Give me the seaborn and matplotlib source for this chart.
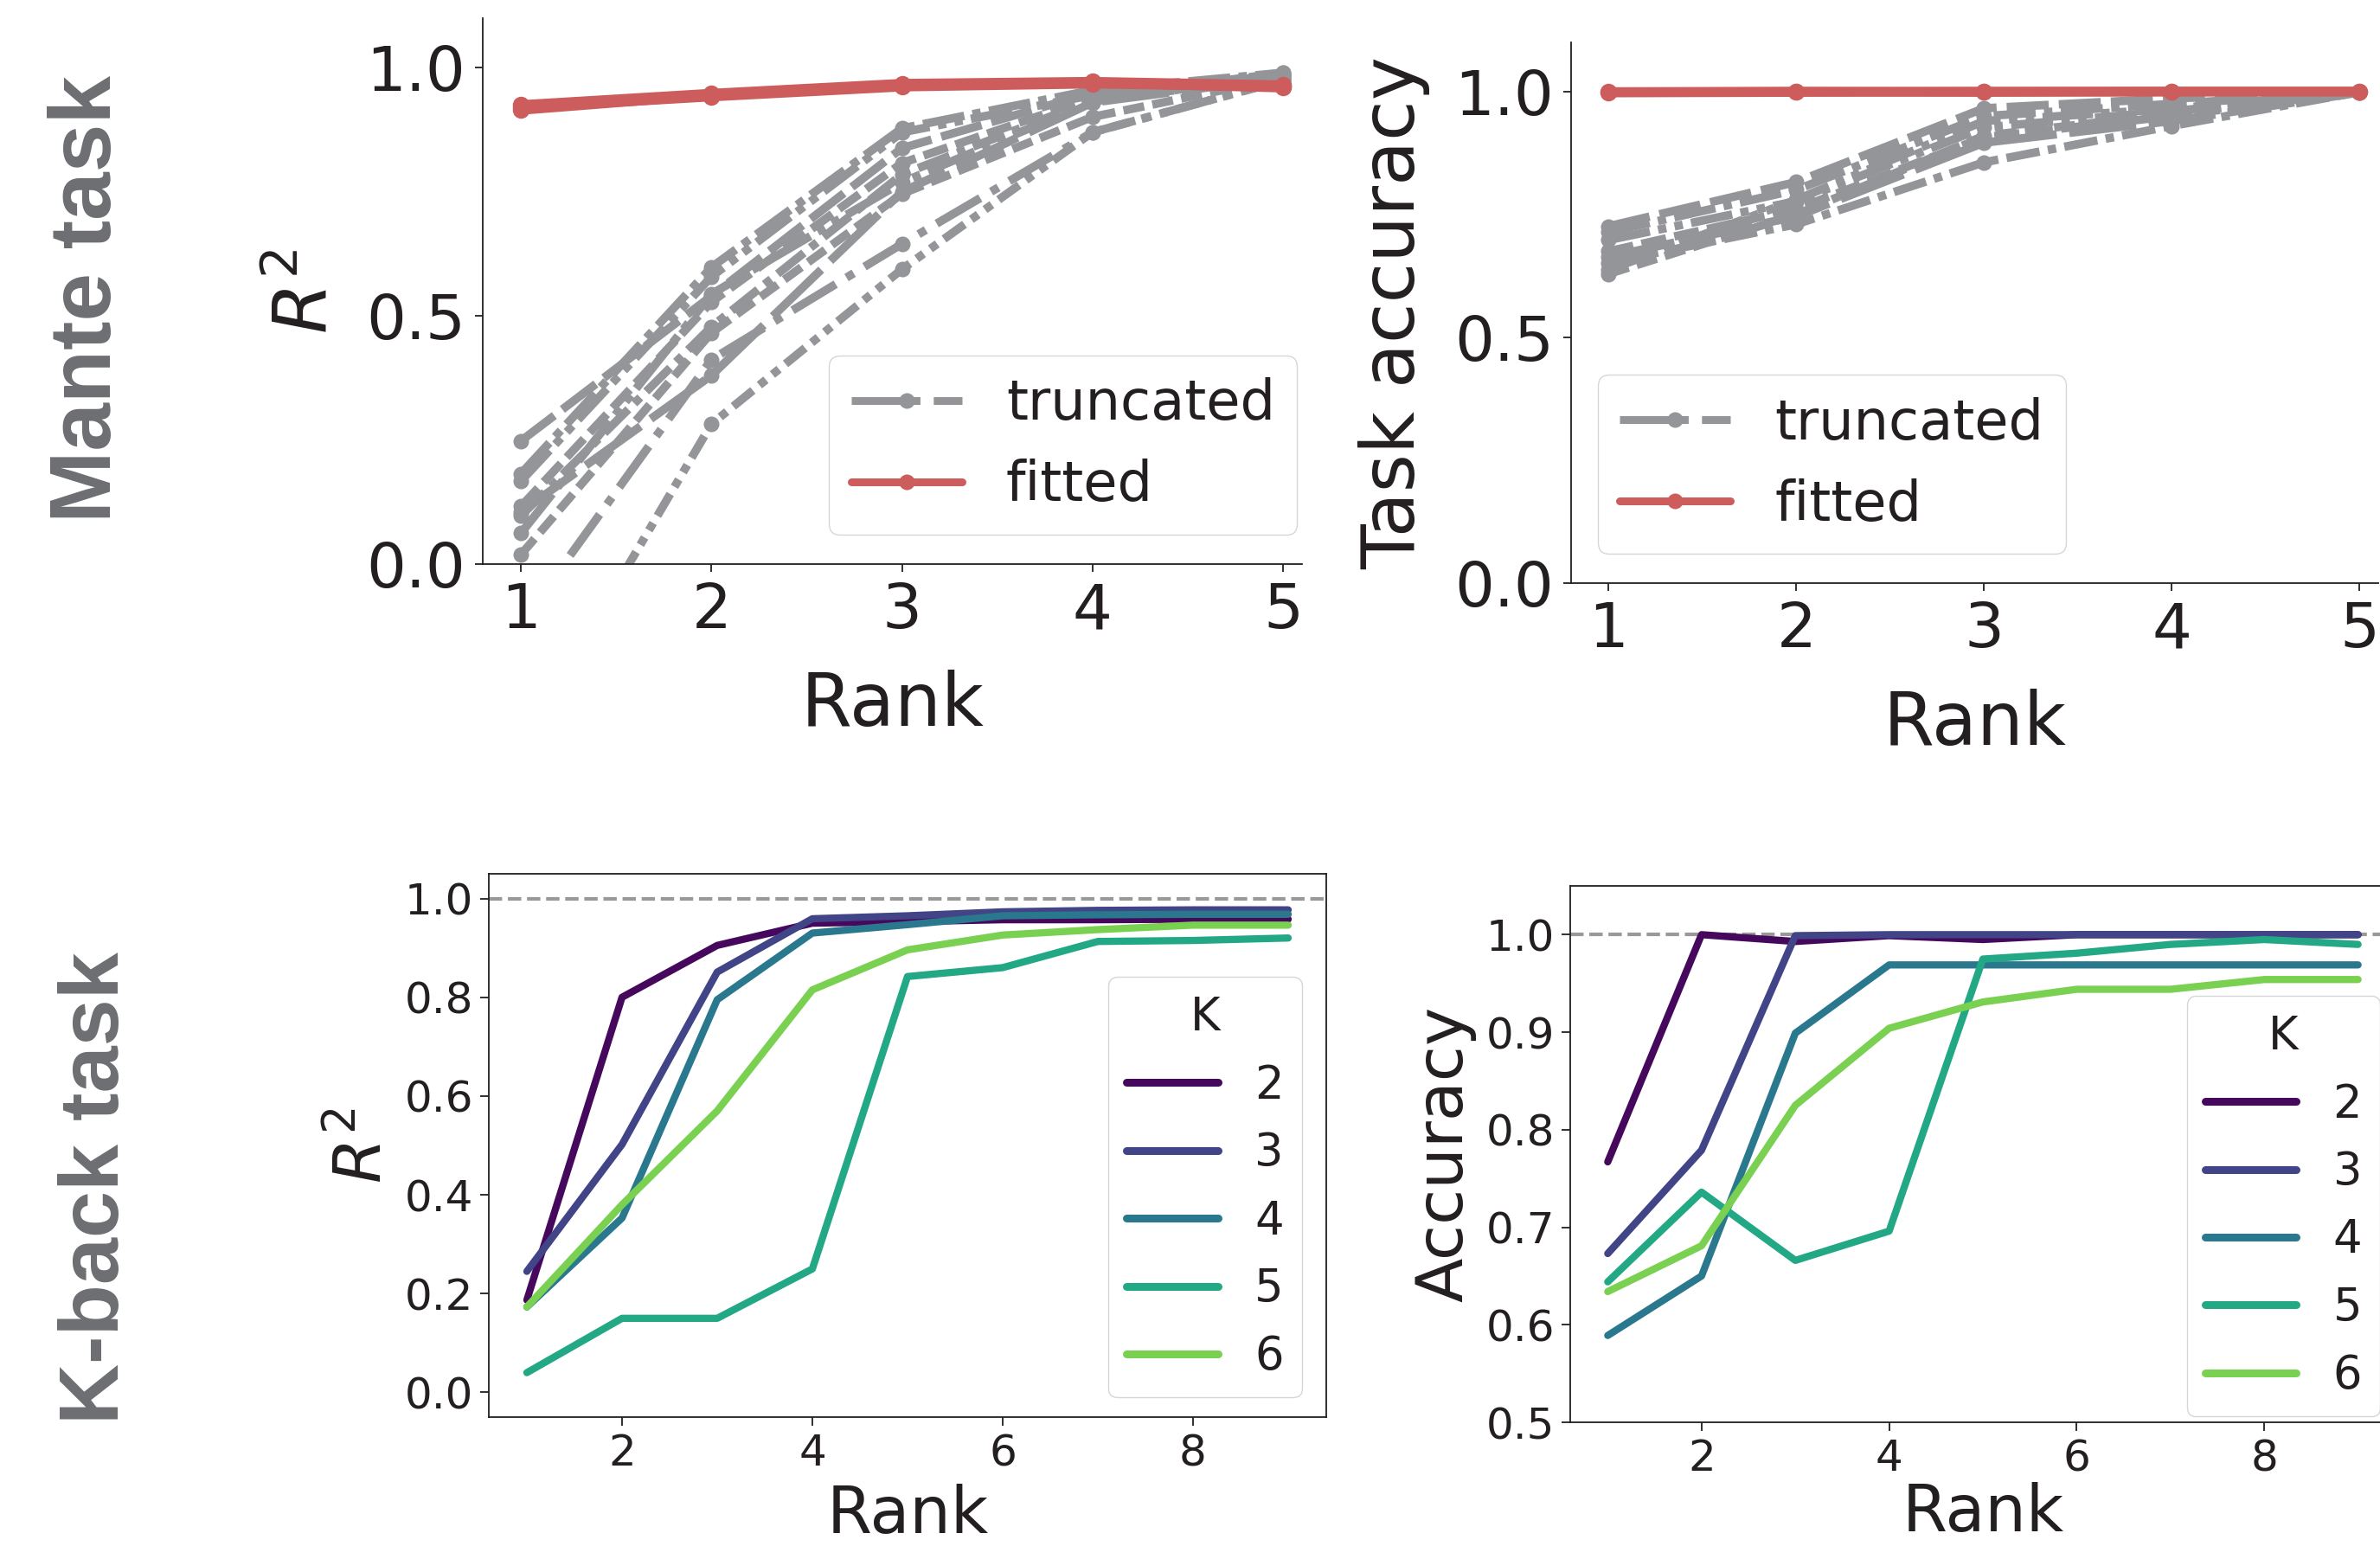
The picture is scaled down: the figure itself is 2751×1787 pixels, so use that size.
import numpy as np
import pandas as pd
import matplotlib
matplotlib.use("Agg")
import matplotlib.pyplot as plt
from matplotlib.lines import Line2D
import seaborn as sns

# ---------------- data ----------------
ranks_top = [1, 2, 3, 4, 5]
# Mante task, R^2 of truncated networks (one list per network)
mante_r2_truncated = [
    [0.248, 0.540, 0.838, 0.950, 0.985],
    [0.182, 0.598, 0.878, 0.955, 0.990],
    [0.167, 0.579, 0.870, 0.945, 0.985],
    [0.116, 0.528, 0.808, 0.940, 0.990],
    [0.105, 0.380, 0.750, 0.930, 0.980],
    [0.097, 0.478, 0.785, 0.935, 0.980],
    [0.062, 0.544, 0.769, 0.932, 0.985],
    [0.019, 0.466, 0.746, 0.901, 0.980],
    [-0.120, 0.412, 0.645, 0.870, 0.975],
    [-0.370, 0.282, 0.594, 0.870, 0.975],
]
mante_r2_fitted = [
    [0.915, 0.945, 0.965, 0.970, 0.960],
    [0.925, 0.948, 0.968, 0.972, 0.965],
    [0.920, 0.942, 0.962, 0.968, 0.962],
]
# Mante task, task accuracy
mante_acc_truncated = [
    [0.726, 0.816, 0.966, 0.986, 1.000],
    [0.714, 0.800, 0.950, 0.975, 0.999],
    [0.698, 0.777, 0.927, 0.960, 0.998],
    [0.675, 0.761, 0.907, 0.950, 0.999],
    [0.664, 0.746, 0.896, 0.940, 0.998],
    [0.652, 0.730, 0.856, 0.930, 0.999],
    [0.637, 0.780, 0.940, 0.965, 1.000],
    [0.629, 0.750, 0.910, 0.955, 0.999],
]
mante_acc_fitted = [
    [0.998, 0.999, 1.000, 1.000, 1.000],
    [0.999, 1.000, 0.999, 1.000, 1.000],
]

ranks_kback = [1, 2, 3, 4, 5, 6, 7, 8, 9]
k_values = [2, 3, 4, 5, 6]
kback_r2 = {
    2: [0.187, 0.800, 0.905, 0.950, 0.953, 0.957, 0.957, 0.958, 0.958],
    3: [0.245, 0.502, 0.851, 0.959, 0.965, 0.973, 0.976, 0.977, 0.977],
    4: [0.173, 0.353, 0.795, 0.930, 0.947, 0.965, 0.967, 0.968, 0.968],
    5: [0.040, 0.150, 0.150, 0.250, 0.842, 0.860, 0.913, 0.915, 0.920],
    6: [0.173, 0.380, 0.570, 0.815, 0.896, 0.926, 0.937, 0.946, 0.946],
}
kback_acc = {
    2: [0.767, 1.000, 0.993, 0.999, 0.995, 1.000, 1.000, 1.000, 1.000],
    3: [0.673, 0.779, 0.999, 1.000, 1.000, 1.000, 1.000, 1.000, 1.000],
    4: [0.589, 0.650, 0.899, 0.969, 0.969, 0.969, 0.969, 0.969, 0.969],
    5: [0.644, 0.736, 0.666, 0.696, 0.975, 0.981, 0.990, 0.995, 0.990],
    6: [0.634, 0.681, 0.825, 0.904, 0.931, 0.944, 0.944, 0.954, 0.954],
}

GRAY = "#939598"
RED = "#cd5c5c"
LABEL_GRAY = "#6d6e71"
K_COLORS = [matplotlib.colormaps["viridis"](v) for v in [0.02, 0.2, 0.4, 0.6, 0.8]]
DASHES = [(5, 1.2), (5, 1, 1, 1), (5, 1, 1, 1, 1, 1), (3, 1), (8, 1.5),
          (4, 1, 1, 1), (6, 1, 1, 1, 1, 1), (2.5, 1), (6, 1.5, 1, 1.5), (3, 1, 1, 1, 1, 1)]


def long_df(lines, ranks):
    rows = []
    for i, ys in enumerate(lines):
        for r, y in zip(ranks, ys):
            rows.append({"run": i, "rank": r, "value": y})
    return pd.DataFrame(rows)


def kback_df(d):
    rows = []
    for k in k_values:
        for r, y in zip(ranks_kback, d[k]):
            rows.append({"K": str(k), "rank": r, "value": y})
    return pd.DataFrame(rows)


# ---------------- style ----------------
sns.set_theme(style="ticks")
plt.rcParams["font.family"] = ["DejaVu Sans"]
plt.rcParams["axes.linewidth"] = 1.3
plt.rcParams["text.color"] = "#231f20"
plt.rcParams["axes.labelcolor"] = "#231f20"
plt.rcParams["xtick.color"] = "#231f20"
plt.rcParams["ytick.color"] = "#231f20"
plt.rcParams["axes.edgecolor"] = "#231f20"

fig = plt.figure(figsize=(27.51, 17.87), dpi=100)
W, H = 2751, 1787


def add_ax(x0, y0, x1, y1):
    return fig.add_axes([x0 / W, 1 - y1 / H, (x1 - x0) / W, (y1 - y0) / H])


ax_tl = add_ax(558, 21, 1505, 652)
ax_tr = add_ax(1816, 49, 2749, 674)
ax_bl = add_ax(565, 1010, 1533, 1638)
ax_br = add_ax(1815, 1024, 2769, 1644)

TOP_TICK = 52
TOP_LABEL = 61
BOT_TICK = 36
BOT_LABEL = 54
TOP_LEG = 46
BOT_LEG = 38


def top_panel(ax, trunc, fitted, ylabel, leg_loc, leg_anchor):
    sns.lineplot(data=long_df(trunc, ranks_top), x="rank", y="value", style="run",
                 dashes=DASHES[:len(trunc)], color=GRAY, marker="o", markersize=13,
                 markeredgewidth=0, linewidth=7, errorbar=None, legend=False, ax=ax)
    sns.lineplot(data=long_df(fitted, ranks_top), x="rank", y="value", units="run",
                 estimator=None, color=RED, marker="o", markersize=14, markeredgewidth=0,
                 linewidth=8, legend=False, ax=ax)
    ax.set_xlim(0.8, 5.1)
    ax.set_ylim(0, 1.1)
    ax.set_xticks(ranks_top)
    ax.set_yticks([0.0, 0.5, 1.0])
    ax.set_yticklabels(["0.0", "0.5", "1.0"])
    ax.tick_params(labelsize=TOP_TICK, length=6.5, width=1.3, pad=8)
    ax.set_xlabel("Rank", fontsize=TOP_LABEL, labelpad=24)
    ax.set_ylabel(ylabel, fontsize=TOP_LABEL, labelpad=20)
    sns.despine(ax=ax)
    handles = [
        Line2D([0], [0], color=GRAY, lw=6.5, ls=(0, (8.8, 1.7)), marker="o", ms=13, mew=0),
        Line2D([0], [0], color=RED, lw=6.5, marker="o", ms=13, mew=0),
    ]
    ax.legend(handles, ["truncated", "fitted"], fontsize=TOP_LEG, loc=leg_loc,
              bbox_to_anchor=leg_anchor, borderaxespad=0, frameon=True)


top_panel(ax_tl, mante_r2_truncated, mante_r2_fitted, "$R^2$", "lower right", (0.994, 0.054))
top_panel(ax_tr, mante_acc_truncated, mante_acc_fitted, "Task accuracy", "lower left", (0.033, 0.054))


def bottom_panel(ax, d, ylabel, ylim, yticks, leg_loc, leg_anchor, xpad):
    ax.axhline(1.0, color="#999999", ls="--", lw=3, zorder=1)
    sns.lineplot(data=kback_df(d), x="rank", y="value", hue="K", palette=K_COLORS,
                 linewidth=6, errorbar=None, ax=ax)
    ax.set_ylim(*ylim)
    ax.set_xticks([2, 4, 6, 8])
    ax.set_yticks(yticks)
    ax.set_yticklabels([f"{v:.1f}" for v in yticks])
    ax.tick_params(labelsize=BOT_TICK, length=7, width=1.3, pad=6)
    ax.set_xlabel("Rank", fontsize=BOT_LABEL, labelpad=xpad)
    ax.set_ylabel(ylabel, fontsize=BOT_LABEL, labelpad=8)
    leg = ax.legend(title="K", fontsize=BOT_LEG, title_fontsize=BOT_LEG, loc=leg_loc,
                    bbox_to_anchor=leg_anchor, borderaxespad=0, frameon=True)
    for line in leg.get_lines():
        line.set_linewidth(6.5)


bottom_panel(ax_bl, kback_r2, "$R^2$", (-0.05, 1.05), [0.0, 0.2, 0.4, 0.6, 0.8, 1.0],
             "upper right", (0.971, 0.81), 8)
bottom_panel(ax_br, kback_acc, "Accuracy", (0.5, 1.05), [0.5, 0.6, 0.7, 0.8, 0.9, 1.0],
             "upper left", (0.747, 0.795), 2)

# row labels
row_font = ["Liberation Sans", "DejaVu Sans"]
fig.text(102 / W, 1 - 345 / H, "Mante task", rotation=90, ha="center", va="center",
         fontsize=72, fontweight="bold", color=LABEL_GRAY, family=row_font)
fig.text(112 / W, 1 - 1373 / H, "K-back task", rotation=90, ha="center", va="center",
         fontsize=70, fontweight="bold", color=LABEL_GRAY, family=row_font)

fig.savefig("out.png", dpi=100)
